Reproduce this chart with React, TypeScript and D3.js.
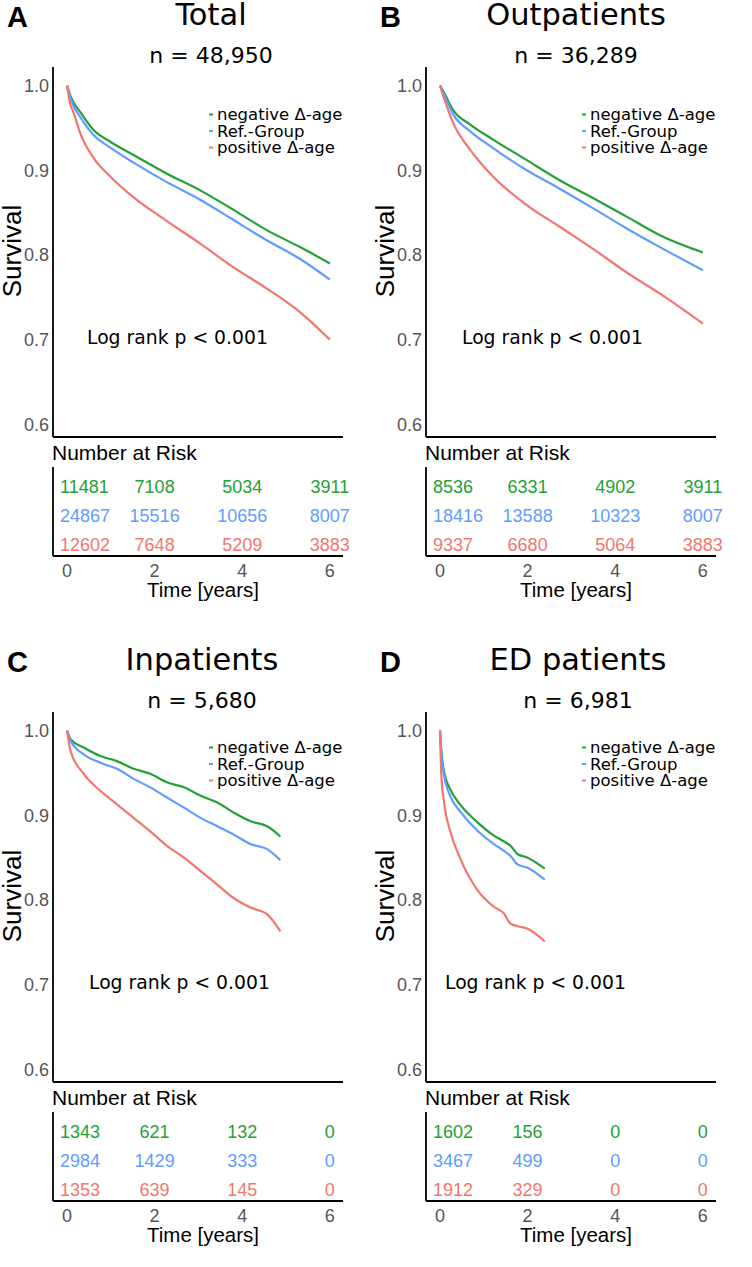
import React from 'react';
import * as d3 from 'd3';

// groups and colours
const groups = ['negative Δ-age', 'Ref.-Group', 'positive Δ-age'];
const lineColors = ['#23a137', '#619cff', '#f2766e'];

// panel text
const panelLetters = ['A', 'B', 'C', 'D'];
const panelTitles = ['Total', 'Outpatients', 'Inpatients', 'ED patients'];
const panelCounts = ['48,950', '36,289', '5,680', '6,981'];

const yTicks = [0.6, 0.7, 0.8, 0.9, 1.0];
const xTicks = [0, 2, 4, 6];
const riskTimes = [0, 2, 4, 6];

// Total
const totalTimes = [0, 0.07, 0.15, 0.30, 0.60, 0.98, 1.52, 2.28, 3.05, 3.81, 4.57, 5.33, 6.0];
const totalNegative = [1.0, 0.989, 0.980, 0.969, 0.948, 0.934, 0.918, 0.896, 0.876, 0.853, 0.829, 0.809, 0.790];
const totalRef = [1.0, 0.987, 0.976, 0.963, 0.942, 0.927, 0.909, 0.886, 0.865, 0.841, 0.817, 0.795, 0.771];
const totalPositive = [1.0, 0.979, 0.968, 0.944, 0.915, 0.893, 0.868, 0.840, 0.813, 0.785, 0.760, 0.732, 0.700];
const riskTotal = [[11481, 7108, 5034, 3911], [24867, 15516, 10656, 8007], [12602, 7648, 5209, 3883]];

// Outpatients
const outTimes = [0, 0.08, 0.30, 0.69, 1.22, 1.98, 2.74, 3.50, 4.27, 5.03, 6.0];
const outNegative = [1.0, 0.993, 0.971, 0.954, 0.936, 0.912, 0.888, 0.867, 0.845, 0.823, 0.803];
const outRef = [1.0, 0.991, 0.966, 0.946, 0.926, 0.900, 0.878, 0.855, 0.831, 0.809, 0.782];
const outPositive = [1.0, 0.987, 0.956, 0.924, 0.892, 0.859, 0.833, 0.807, 0.779, 0.754, 0.719];
const riskOut = [[8536, 6331, 4902, 3911], [18416, 13588, 10323, 8007], [9337, 6680, 5064, 3883]];

// Inpatients
const inTimes = [0, 0.08, 0.38, 0.76, 1.14, 1.52, 1.90, 2.28, 2.67, 3.05, 3.43, 3.81, 4.19, 4.57, 4.87];
const inNegative = [1.0, 0.990, 0.980, 0.970, 0.964, 0.955, 0.949, 0.939, 0.933, 0.923, 0.915, 0.903, 0.893, 0.887, 0.875];
const inRef = [1.0, 0.988, 0.972, 0.962, 0.955, 0.943, 0.933, 0.921, 0.909, 0.897, 0.887, 0.877, 0.866, 0.860, 0.847];
const inPositive = [1.0, 0.976, 0.949, 0.929, 0.913, 0.897, 0.881, 0.864, 0.850, 0.834, 0.818, 0.802, 0.791, 0.783, 0.763];
const riskIn = [[1343, 621, 132, 0], [2984, 1429, 333, 0], [1353, 639, 145, 0]];

// ED patients
const edTimes = [0, 0.03, 0.09, 0.24, 0.47, 0.85, 1.23, 1.46, 1.61, 1.77, 2.0, 2.39];
const edNegative = [1.0, 0.976, 0.952, 0.930, 0.912, 0.892, 0.876, 0.869, 0.864, 0.854, 0.850, 0.837];
const edRef = [1.0, 0.972, 0.948, 0.922, 0.904, 0.882, 0.866, 0.858, 0.852, 0.842, 0.838, 0.824];
const edPositive = [1.0, 0.948, 0.916, 0.880, 0.848, 0.812, 0.792, 0.784, 0.772, 0.769, 0.766, 0.751];
const riskEd = [[1602, 156, 0, 0], [3467, 499, 0, 0], [1912, 329, 0, 0]];

const panelData = [
    { times: totalTimes, series: [totalNegative, totalRef, totalPositive], risk: riskTotal },
    { times: outTimes, series: [outNegative, outRef, outPositive], risk: riskOut },
    { times: inTimes, series: [inNegative, inRef, inPositive], risk: riskIn },
    { times: edTimes, series: [edNegative, edRef, edPositive], risk: riskEd },
];

// layout (not data)
const W = 752;
const H = 1267;
const offX = [0, 373, 0, 373];
const offY = [0, 0, 645, 645];
const titleCx = [211, 203, 202, 205];
const legendY = [120, 120, 108, 108];
const logRankX = [87, 89, 89, 72];

const VERD = "'DejaVu Sans', Verdana, sans-serif";
const ARIAL = "'Liberation Sans', Arial, sans-serif";
const AX = 53;

const x = d3.scaleLinear().domain([-0.32, 6.3]).range([AX, 343]);
const y = d3.scaleLinear().domain([0.585, 1.022]).range([437, 67]);
const riskY = d3.scalePoint<number>().domain([0, 1, 2]).range([487, 545]);

const Panel: React.FC<{ i: number }> = ({ i }) => {
    const pd = panelData[i];
    const line = d3.line<number>()
        .x((_d, k) => x(pd.times[k]))
        .y(d => y(d))
        .curve(d3.curveMonotoneX);

    return (
        <g transform={`translate(${offX[i]},${offY[i]})`}>
            <text x={7} y={27} fontFamily={ARIAL} fontWeight="bold" fontSize={29}>{panelLetters[i]}</text>
            <text x={titleCx[i]} y={25} textAnchor="middle" fontFamily={VERD} fontSize={30.5}>{panelTitles[i]}</text>
            <text x={titleCx[i]} y={63} textAnchor="middle" fontFamily={VERD} fontSize={22}>n = {panelCounts[i]}</text>

            <line x1={AX} x2={AX} y1={67} y2={437} stroke="#000" strokeWidth={1.8} />
            <line x1={AX} x2={343} y1={437} y2={437} stroke="#000" strokeWidth={1.8} />
            {yTicks.map(t => (
                <text key={t} x={49} y={y(t)} dy="0.36em" textAnchor="end" fontFamily={ARIAL} fontSize={18} fill="#555">
                    {t.toFixed(1)}
                </text>
            ))}
            <text transform={`translate(21,251) rotate(-90)`} textAnchor="middle" fontFamily={ARIAL} fontSize={26}>Survival</text>

            {pd.series.map((s, g) => (
                <path key={g} d={line(s) || ''} fill="none" stroke={lineColors[g]} strokeWidth={2.2} />
            ))}

            {groups.map((name, g) => (
                <g key={name}>
                    <line x1={209} x2={213} y1={legendY[i] + g * 16.5 - 5.5} y2={legendY[i] + g * 16.5 - 5.5}
                        stroke={lineColors[g]} strokeWidth={2} />
                    <text x={217} y={legendY[i] + g * 16.5} fontFamily={VERD} fontSize={16.5}>{name}</text>
                </g>
            ))}

            <text x={logRankX[i]} y={344} fontFamily={VERD} fontSize={18.8}>Log rank p &lt; 0.001</text>

            <text x={52} y={460} fontFamily={ARIAL} fontSize={21}>Number at Risk</text>
            <line x1={AX} x2={AX} y1={467} y2={556} stroke="#000" strokeWidth={1.8} />
            <line x1={AX} x2={343} y1={556} y2={556} stroke="#000" strokeWidth={1.8} />
            {pd.risk.map((row, g) =>
                row.map((v, k) => (
                    <text key={`${g}-${k}`}
                        x={k === 0 ? x(riskTimes[k]) - 7 : x(riskTimes[k])}
                        y={riskY(g)} dy="0.36em"
                        textAnchor={k === 0 ? 'start' : 'middle'}
                        fontFamily={ARIAL} fontSize={18} fill={lineColors[g]}>
                        {v}
                    </text>
                ))
            )}

            {xTicks.map(t => (
                <text key={t} x={x(t)} y={577} textAnchor="middle" fontFamily={ARIAL} fontSize={18} fill="#555">{t}</text>
            ))}
            <text x={203} y={597} textAnchor="middle" fontFamily={ARIAL} fontSize={20.5}>Time [years]</text>
        </g>
    );
};

const App: React.FC = () => (
    <svg width={W} height={H} style={{ position: 'absolute', left: 0, top: 0, background: '#fff' }}>
        {[0, 1, 2, 3].map(i => <Panel key={i} i={i} />)}
    </svg>
);

export default App;
